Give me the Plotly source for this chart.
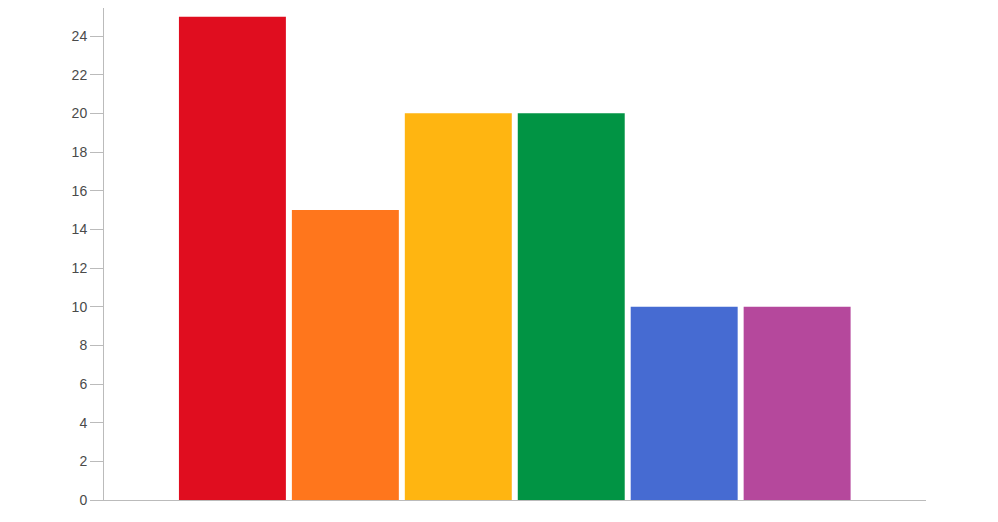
# Gráfico de barras coloridas
import plotly.graph_objects as go

# %% Dados
categorias = [0, 1, 2, 3, 4, 5]
valores = [25, 15, 20, 20, 10, 10]
cores = ["#e00d1f", "#ff761c", "#ffb511", "#019444", "#466bd2", "#b5489c"]
ticks_y = list(range(0, 27, 2))

# %% Figura
# a página tem margem de 8px no body, por isso 990x514
fig = go.Figure(go.Bar(
    x=categorias,
    y=valores,
    marker=dict(color=cores, line=dict(width=0)),
    hoverinfo="y",
))

fig.update_layout(
    width=990,
    height=514,
    margin=dict(l=96, r=72, t=0, b=22),
    paper_bgcolor="white",
    plot_bgcolor="white",
    bargap=0.053,
    showlegend=False,
    font=dict(family="Liberation Sans, Arial, sans-serif", size=14, color="#4a4a4a"),
)

fig.update_xaxes(
    range=[-1.137, 6.141],
    showticklabels=False,
    ticks="",
    showgrid=False,
    zeroline=False,
    showline=True,
    linecolor="#bbbbbb",
    linewidth=1,
)

fig.update_yaxes(
    range=[0, 25.45],
    tickvals=ticks_y,
    ticks="outside",
    ticklen=13,
    tickcolor="#bbbbbb",
    tickfont=dict(size=14, color="#4a4a4a"),
    showgrid=False,
    zeroline=False,
    showline=True,
    linecolor="#bbbbbb",
    linewidth=1,
)

fig.write_html("out.html")
